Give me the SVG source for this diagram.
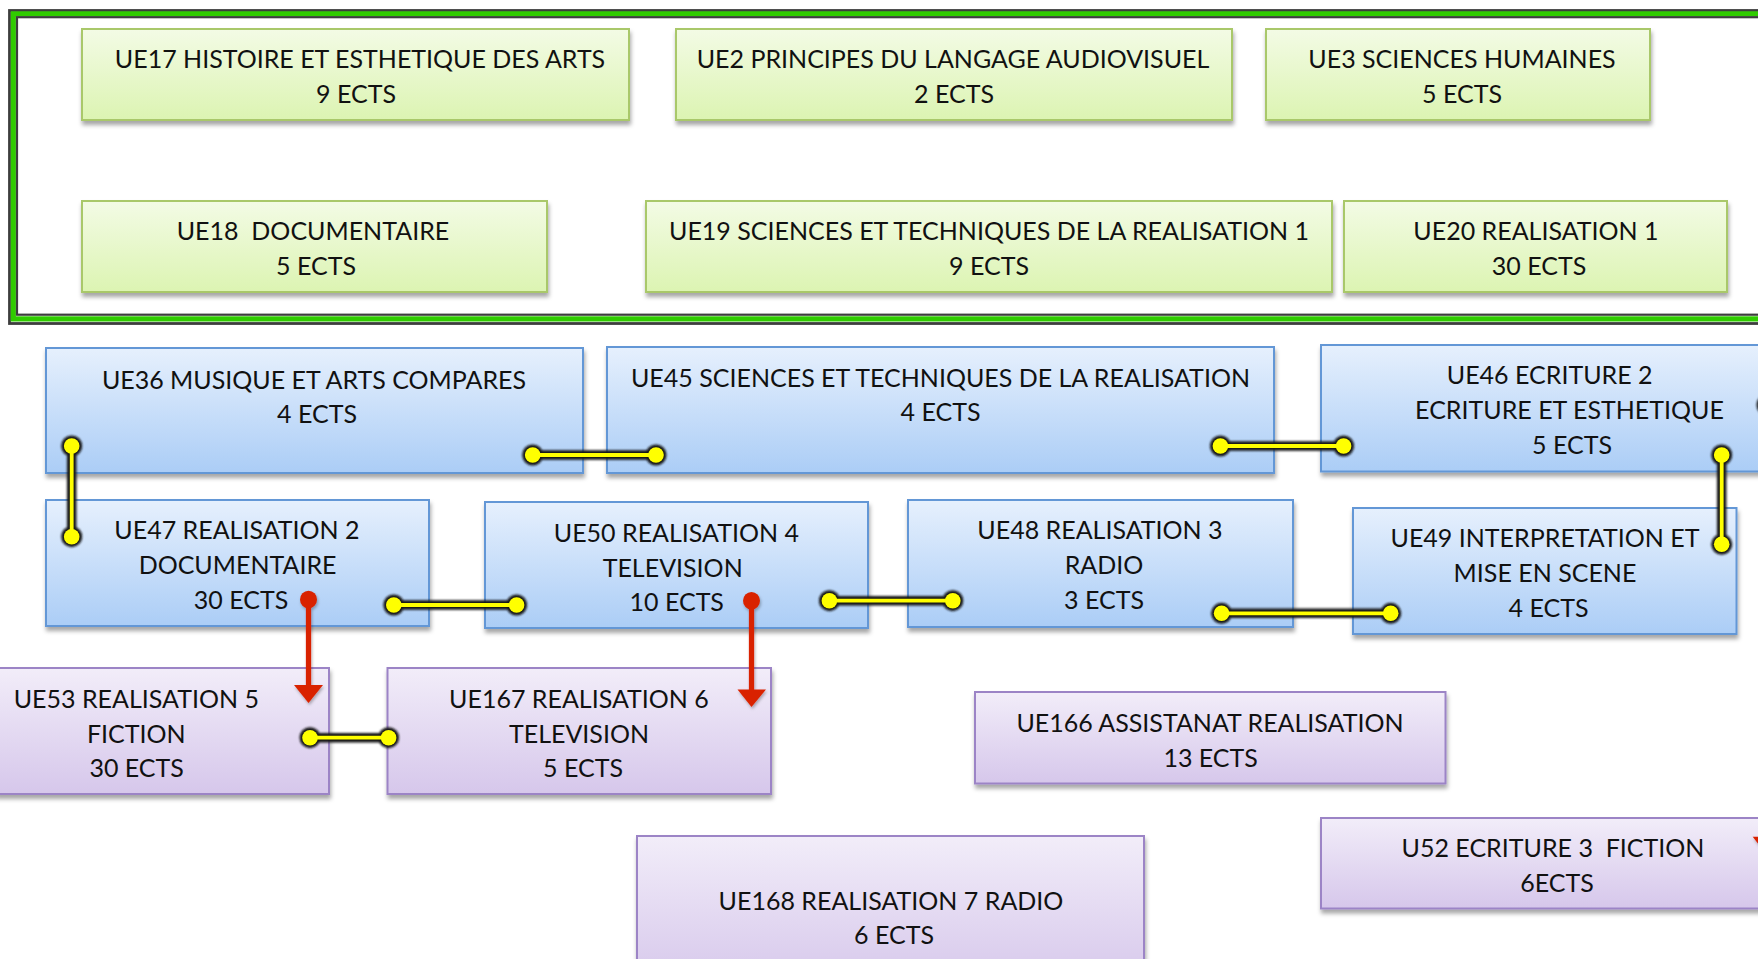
<svg xmlns="http://www.w3.org/2000/svg" width="1758" height="959" viewBox="0 0 1758 959">
<style>
.t{font-family:Lato,"Liberation Sans",sans-serif;font-size:25px;fill:#111;text-anchor:middle}
.g{fill:url(#gg);stroke:#a9c86a;stroke-width:2}
.b{fill:url(#gb);stroke:#6397d6;stroke-width:2}
.p{fill:url(#gp);stroke:#9c84c6;stroke-width:2}
.halo{fill:none;stroke:#141414;stroke-width:9.5;stroke-linecap:round}
.hdot{fill:#141414}
.yl{fill:none;stroke:#ffff00;stroke-width:3.8}
.yd{fill:#ffff00}
.rl{fill:none;stroke:#d92400;stroke-width:5.2}
.rd{fill:#d92400}
</style>
<defs>
<linearGradient id="gg" x1="0" y1="0" x2="0" y2="1"><stop offset="0" stop-color="#f3fbe5"/><stop offset="1" stop-color="#dcf4b2"/></linearGradient>
<linearGradient id="gb" x1="0" y1="0" x2="0" y2="1"><stop offset="0" stop-color="#e6f0fd"/><stop offset="1" stop-color="#abcdf6"/></linearGradient>
<linearGradient id="gp" x1="0" y1="0" x2="0" y2="1"><stop offset="0" stop-color="#f2edf9"/><stop offset="1" stop-color="#d6c7eb"/></linearGradient>
<filter id="sh" x="-5%" y="-10%" width="110%" height="130%"><feDropShadow dx="1" dy="4" stdDeviation="2" flood-color="#000" flood-opacity="0.35"/></filter>
<filter id="blur" x="-20%" y="-50%" width="140%" height="200%"><feGaussianBlur stdDeviation="1.1"/></filter>
<filter id="rsh" x="-50%" y="-20%" width="200%" height="140%"><feDropShadow dx="1" dy="2" stdDeviation="1.5" flood-color="#000" flood-opacity="0.3"/></filter>
</defs>
<rect width="1758" height="959" fill="#ffffff"/>

<g id="frame">
<rect x="9.5" y="10.5" width="1800" height="313" fill="none" stroke="#3d3d3d" stroke-width="2.8"/>
<rect x="13.3" y="13.9" width="1800" height="305" fill="none" stroke="#30cc00" stroke-width="5.2"/>
<rect x="17" y="17.2" width="1800" height="297.5" fill="none" stroke="#3d3d3d" stroke-width="2.2"/>
</g>

<g id="UE17"><rect class="g" filter="url(#sh)" x="82" y="29" width="547" height="91"/><text class="t" x="360" y="68">UE17 HISTOIRE ET ESTHETIQUE DES ARTS</text><text class="t" x="356" y="103">9 ECTS</text></g>
<g id="UE2"><rect class="g" filter="url(#sh)" x="676" y="29" width="556" height="91"/><text class="t" x="953" y="68">UE2 PRINCIPES DU LANGAGE AUDIOVISUEL</text><text class="t" x="954" y="103">2 ECTS</text></g>
<g id="UE3"><rect class="g" filter="url(#sh)" x="1266" y="29" width="384" height="91"/><text class="t" x="1462" y="68">UE3 SCIENCES HUMAINES</text><text class="t" x="1462" y="103">5 ECTS</text></g>
<g id="UE18"><rect class="g" filter="url(#sh)" x="82" y="201" width="465" height="91"/><text class="t" x="313" y="239.5" xml:space="preserve">UE18  DOCUMENTAIRE</text><text class="t" x="316" y="275">5 ECTS</text></g>
<g id="UE19"><rect class="g" filter="url(#sh)" x="646" y="201" width="686" height="91"/><text class="t" x="989" y="239.5">UE19 SCIENCES ET TECHNIQUES DE LA REALISATION 1</text><text class="t" x="989" y="275">9 ECTS</text></g>
<g id="UE20"><rect class="g" filter="url(#sh)" x="1344" y="201" width="383" height="91"/><text class="t" x="1536" y="239.5">UE20 REALISATION 1</text><text class="t" x="1539" y="275">30 ECTS</text></g>

<g id="UE36"><rect class="b" filter="url(#sh)" x="46" y="348" width="537" height="125"/><text class="t" x="314" y="389.3">UE36 MUSIQUE ET ARTS COMPARES</text><text class="t" x="317" y="422.7">4 ECTS</text></g>
<g id="UE45"><rect class="b" filter="url(#sh)" x="607" y="347" width="667" height="126"/><text class="t" x="940.5" y="387.3">UE45 SCIENCES ET TECHNIQUES DE LA REALISATION</text><text class="t" x="940.5" y="420.7">4 ECTS</text></g>
<g id="UE46"><rect class="b" filter="url(#sh)" x="1321" y="345" width="500" height="126.5"/><text class="t" x="1549.7" y="384.3">UE46 ECRITURE 2</text><text class="t" x="1569.5" y="419.3">ECRITURE ET ESTHETIQUE</text><text class="t" x="1572" y="454">5 ECTS</text></g>
<g id="UE47"><rect class="b" filter="url(#sh)" x="46" y="500" width="383" height="126"/><text class="t" x="237" y="539.3">UE47 REALISATION 2</text><text class="t" x="237.6" y="574.3">DOCUMENTAIRE</text><text class="t" x="241" y="609.3">30 ECTS</text></g>
<g id="UE50"><rect class="b" filter="url(#sh)" x="485" y="502" width="383" height="126"/><text class="t" x="676.4" y="541.7">UE50 REALISATION 4</text><text class="t" x="672.7" y="576.7">TELEVISION</text><text class="t" x="676.7" y="611">10 ECTS</text></g>
<g id="UE48"><rect class="b" filter="url(#sh)" x="908" y="500" width="385" height="127"/><text class="t" x="1100" y="539.3">UE48 REALISATION 3</text><text class="t" x="1104" y="574.3">RADIO</text><text class="t" x="1104" y="609.3">3 ECTS</text></g>
<g id="UE49"><rect class="b" filter="url(#sh)" x="1353" y="508" width="383.5" height="126"/><text class="t" x="1545" y="547.3">UE49 INTERPRETATION ET</text><text class="t" x="1545" y="582.3">MISE EN SCENE</text><text class="t" x="1548.5" y="616.7">4 ECTS</text></g>

<g id="UE53"><rect class="p" filter="url(#sh)" x="-4" y="668" width="333" height="126"/><text class="t" x="136.3" y="708.3">UE53 REALISATION 5</text><text class="t" x="136.3" y="742.7">FICTION</text><text class="t" x="136.6" y="777.3">30 ECTS</text></g>
<g id="UE167"><rect class="p" filter="url(#sh)" x="387.5" y="668" width="383.5" height="126"/><text class="t" x="579" y="708.3">UE167 REALISATION 6</text><text class="t" x="579" y="742.7">TELEVISION</text><text class="t" x="583" y="777.3">5 ECTS</text></g>
<g id="UE166"><rect class="p" filter="url(#sh)" x="975" y="692" width="470.5" height="91.5"/><text class="t" x="1210" y="731.7">UE166 ASSISTANAT REALISATION</text><text class="t" x="1210.6" y="766.7">13 ECTS</text></g>
<g id="UE168"><rect class="p" filter="url(#sh)" x="637" y="836" width="507" height="150"/><text class="t" x="891" y="910">UE168 REALISATION 7 RADIO</text><text class="t" x="894" y="944">6 ECTS</text></g>
<g id="U52"><rect class="p" filter="url(#sh)" x="1321" y="818" width="500" height="90.5"/><text class="t" x="1553" y="857.3" xml:space="preserve">U52 ECRITURE 3  FICTION</text><text class="t" x="1557" y="892.3">6ECTS</text></g>

<g id="connectors">
<g filter="url(#blur)">
<path class="halo" d="M71.7 446V536.7M532.7 455H656M1220.4 446H1343.6M1721.7 455V544.3M393.8 605H516.6M829.4 600.7H952.8M1221.6 613.3H1390.7M310 737.7H388.6"/>
<circle class="hdot" cx="71.7" cy="446" r="10.5"/><circle class="hdot" cx="71.7" cy="536.7" r="10.5"/>
<circle class="hdot" cx="532.7" cy="455" r="10.5"/><circle class="hdot" cx="656" cy="455" r="10.5"/>
<circle class="hdot" cx="1220.4" cy="446" r="10.5"/><circle class="hdot" cx="1343.6" cy="446" r="10.5"/>
<circle class="hdot" cx="1721.7" cy="455" r="10.5"/><circle class="hdot" cx="1721.7" cy="544.3" r="10.5"/>
<circle class="hdot" cx="393.8" cy="605" r="10.5"/><circle class="hdot" cx="516.6" cy="605" r="10.5"/>
<circle class="hdot" cx="829.4" cy="600.7" r="10.5"/><circle class="hdot" cx="952.8" cy="600.7" r="10.5"/>
<circle class="hdot" cx="1221.6" cy="613.3" r="10.5"/><circle class="hdot" cx="1390.7" cy="613.3" r="10.5"/>
<circle class="hdot" cx="310" cy="737.7" r="10.5"/><circle class="hdot" cx="388.6" cy="737.7" r="10.5"/>
<circle class="hdot" cx="1767" cy="405" r="10.5"/>
</g>
<path class="yl" d="M71.7 446V536.7M532.7 455H656M1220.4 446H1343.6M1721.7 455V544.3M393.8 605H516.6M829.4 600.7H952.8M1221.6 613.3H1390.7M310 737.7H388.6"/>
<circle class="yd" cx="71.7" cy="446" r="7.8"/><circle class="yd" cx="71.7" cy="536.7" r="7.8"/>
<circle class="yd" cx="532.7" cy="455" r="7.8"/><circle class="yd" cx="656" cy="455" r="7.8"/>
<circle class="yd" cx="1220.4" cy="446" r="7.8"/><circle class="yd" cx="1343.6" cy="446" r="7.8"/>
<circle class="yd" cx="1721.7" cy="455" r="7.8"/><circle class="yd" cx="1721.7" cy="544.3" r="7.8"/>
<circle class="yd" cx="393.8" cy="605" r="7.8"/><circle class="yd" cx="516.6" cy="605" r="7.8"/>
<circle class="yd" cx="829.4" cy="600.7" r="7.8"/><circle class="yd" cx="952.8" cy="600.7" r="7.8"/>
<circle class="yd" cx="1221.6" cy="613.3" r="7.8"/><circle class="yd" cx="1390.7" cy="613.3" r="7.8"/>
<circle class="yd" cx="310" cy="737.7" r="7.8"/><circle class="yd" cx="388.6" cy="737.7" r="7.8"/>
<circle class="yd" cx="1767" cy="405" r="7.8"/>
<g filter="url(#rsh)">
<path class="rl" d="M308.5 599.5V688"/><ellipse class="rd" cx="308.5" cy="599.5" rx="8.5" ry="8.8"/><path class="rd" d="M294 685H323L308.5 703Z"/>
<path class="rl" d="M751.5 600.7V692"/><ellipse class="rd" cx="751.5" cy="600.7" rx="8.5" ry="8.8"/><path class="rd" d="M737.5 689.5H766L751.5 707Z"/>
<path class="rd" d="M1752.7 836.7H1781.5L1767 855Z"/>
</g>
</g>
</svg>
